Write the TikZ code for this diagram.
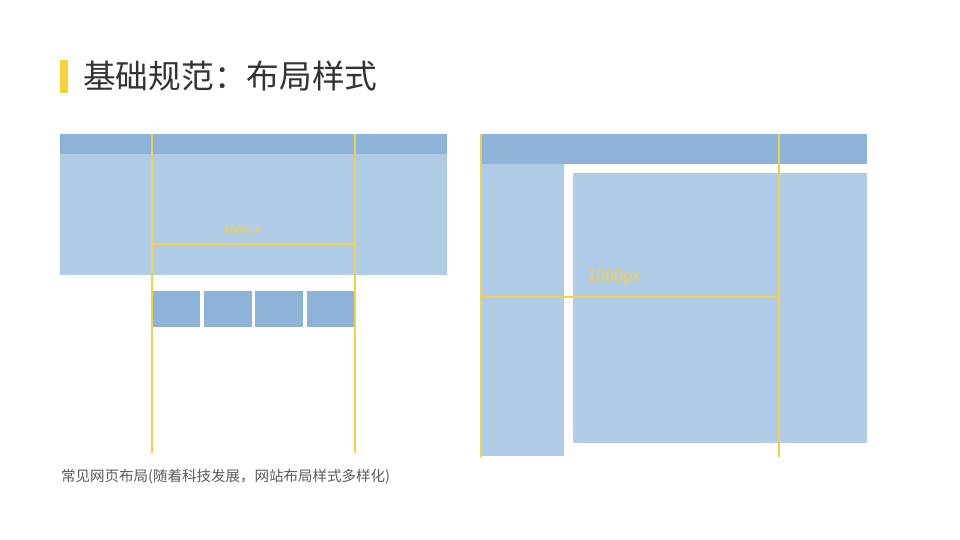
\documentclass[tikz,border=0pt]{standalone}
\usepackage{fontspec}
\setmainfont{Noto Sans CJK SC}
\usetikzlibrary{positioning}
\definecolor{headblue}{HTML}{8DB3D9}
\definecolor{bodyblue}{HTML}{B0CBE5}
\definecolor{guide}{HTML}{F0D24A}
\definecolor{baryellow}{HTML}{F5D33A}
\definecolor{titlegray}{HTML}{333333}
\definecolor{notegray}{HTML}{595959}
\tikzset{
  box/.style={anchor=north west, inner sep=0pt, outer sep=0pt, draw=none},
  head/.style={box, fill=headblue},
  body/.style={box, fill=bodyblue},
  guideline/.style={draw=guide, line width=1.5pt},
  pxlabel/.style={text=guide, inner sep=0pt}
}
\begin{document}
\begin{tikzpicture}[x=1pt, y=-1pt]
\useasboundingbox (0,0) rectangle (960,540);
% title
\node (bar)[box, fill=baryellow, minimum width=8pt, minimum height=33pt] at (60,60) {};
\node (title)[right=15pt of bar, inner sep=0pt, text=titlegray, font=\fontsize{32.7}{38}\selectfont] {基础规范：布局样式};
% left layout
\node (lhead)[head, minimum width=387pt, minimum height=20pt] at (60,134) {};
\node (lbody)[body, minimum width=387pt, minimum height=121pt] at (60,154) {};
\foreach \i in {0,...,3}
  \node (blk\i)[head, minimum width=48.2pt, minimum height=36pt] at (152+51.6*\i,291) {};
\coordinate (lt1) at (152,134);
\coordinate (lb1) at (152,453);
\coordinate (lt2) at (355,134);
\coordinate (lb2) at (355,453);
\coordinate (lm1) at (152,244);
\coordinate (lm2) at (355,244);
\draw[guideline] (lt1) -- (lb1);
\draw[guideline] (lt2) -- (lb2);
\draw[guideline] (lm1) -- (lm2);
\node (lpx)[pxlabel, font=\fontsize{11}{12}\selectfont] at (242,231) {1000px};
% right layout
\node (rhead)[head, minimum width=386pt, minimum height=30pt] at (481,134) {};
\node (rside)[body, minimum width=83pt, minimum height=292pt] at (481,164) {};
\node (rmain)[body, minimum width=294pt, minimum height=270pt] at (573,173) {};
\coordinate (rt1) at (481,134);
\coordinate (rb1) at (481,457);
\coordinate (rt2) at (779,134);
\coordinate (rb2) at (779,457);
\coordinate (rm1) at (481,297);
\coordinate (rm2) at (779,297);
\draw[guideline] (rt1) -- (rb1);
\draw[guideline] (rt2) -- (rb2);
\draw[guideline] (rm1) -- (rm2);
\node (rpx)[pxlabel, font=\fontsize{16}{18}\selectfont] at (614,278) {1000px};
% caption
\node (note)[anchor=west, inner sep=0pt, text=notegray, font=\fontsize{14.5}{17}\selectfont] at (61,477) {常见网页布局(随着科技发展，网站布局样式多样化)};
\end{tikzpicture}
\end{document}
